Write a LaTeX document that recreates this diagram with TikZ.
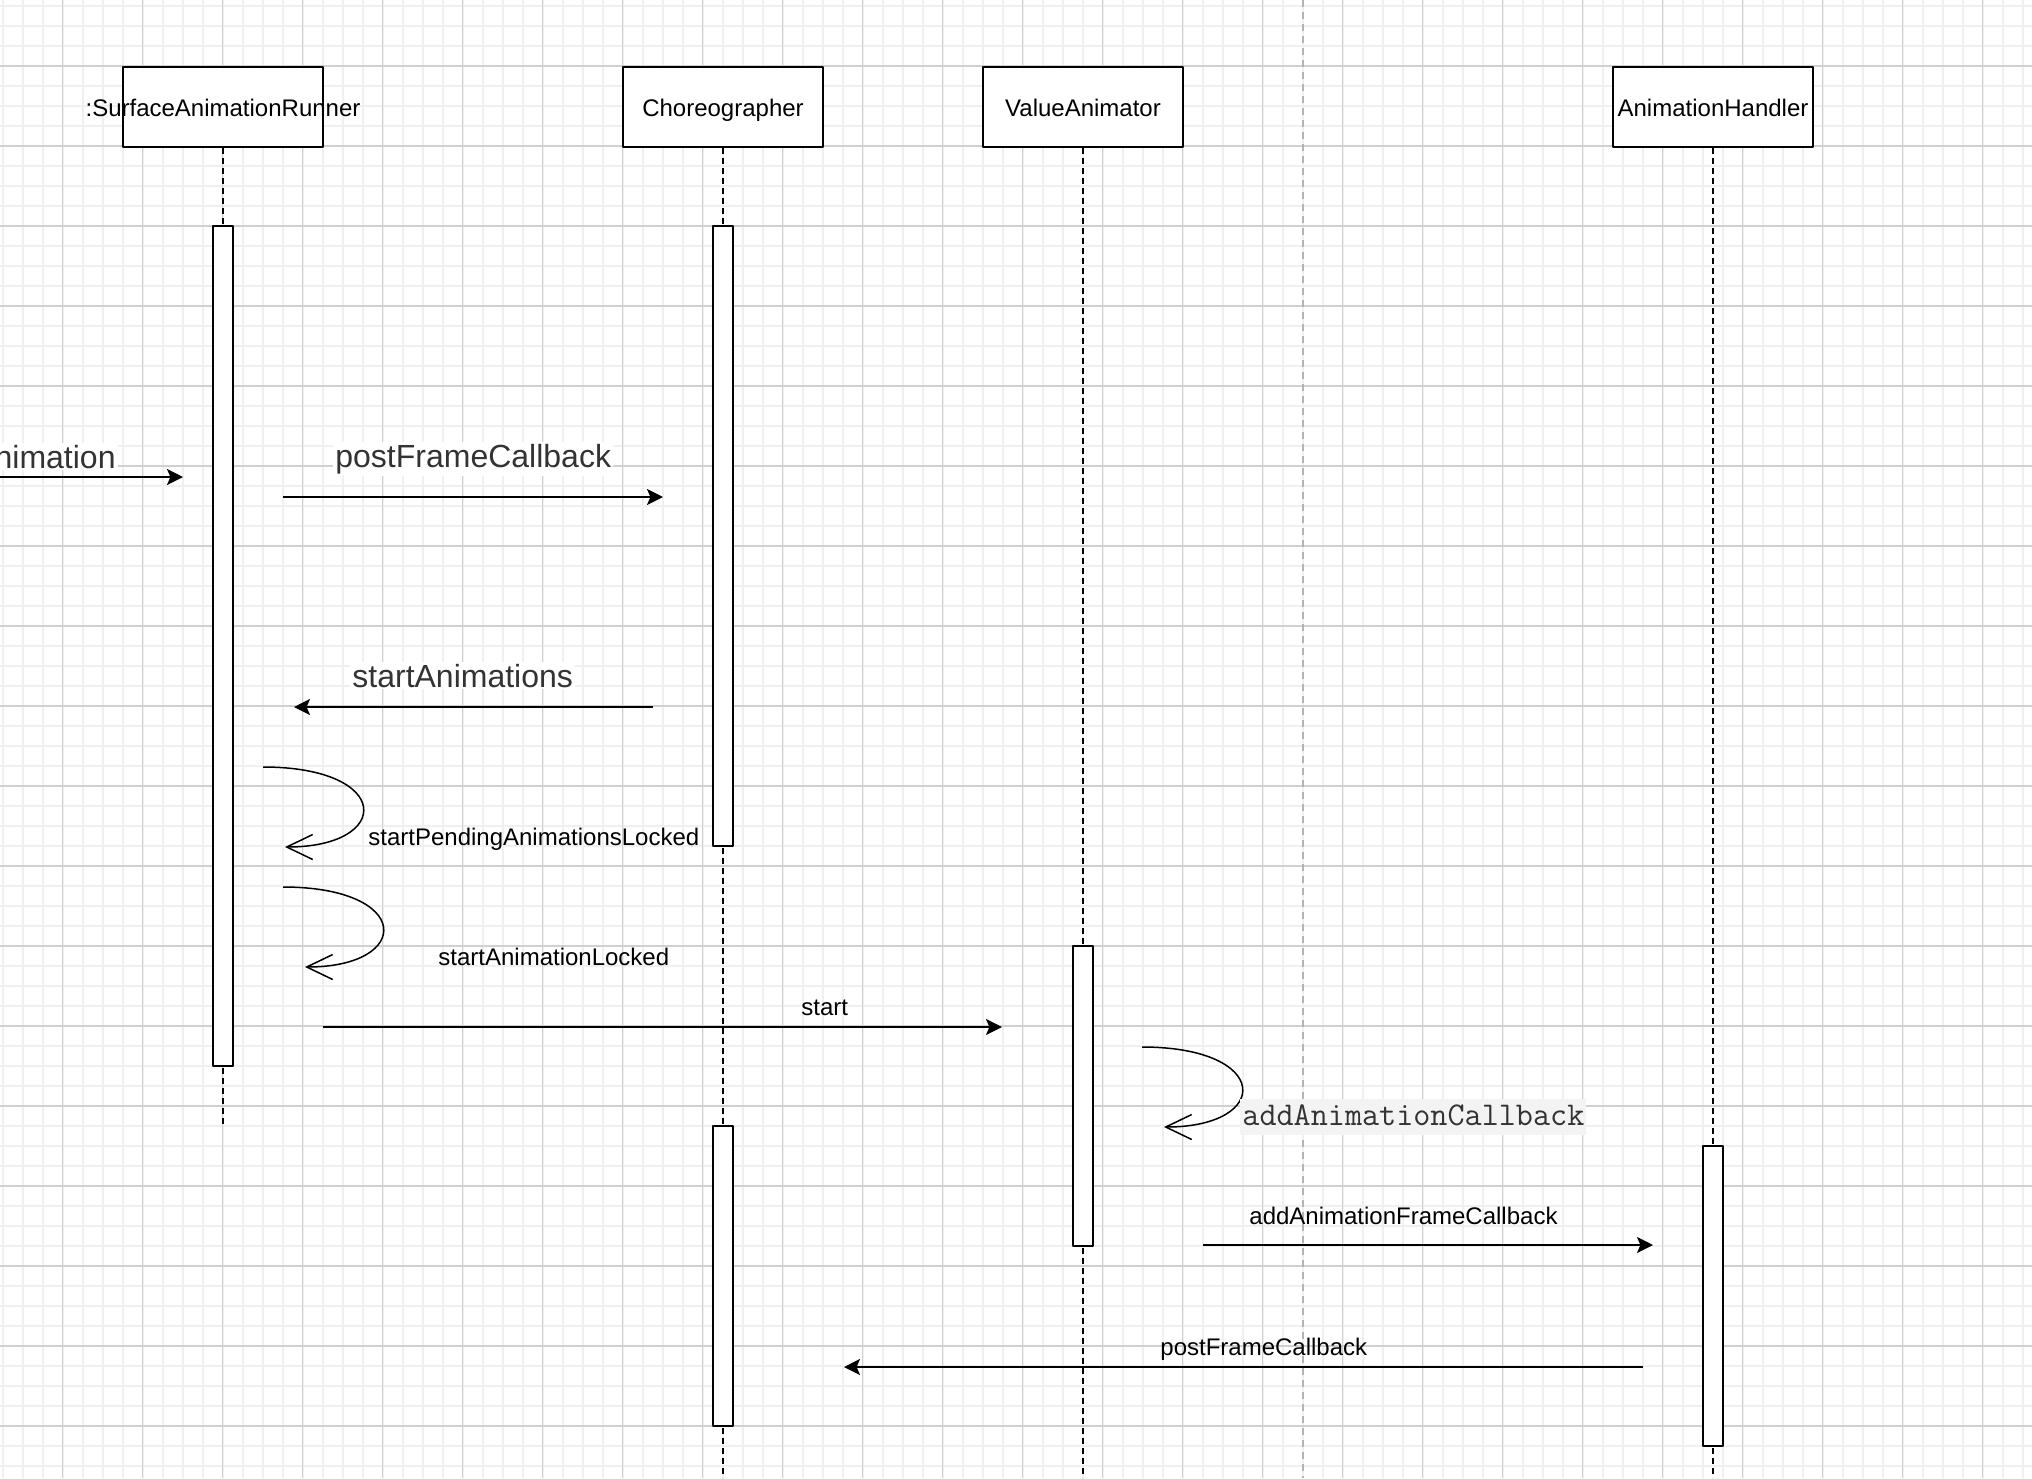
\documentclass[tikz,border=0pt]{standalone}
\usepackage{fontspec}
\setmainfont{Liberation Sans}
\usetikzlibrary{arrows.meta}
\definecolor{gridminor}{HTML}{F0F0F0}
\definecolor{gridmajor}{HTML}{D0D0D0}
\definecolor{pageline}{HTML}{B4B4B4}
\definecolor{labelgray}{HTML}{333333}
\definecolor{codebg}{HTML}{F2F3F2}
\begin{document}
\begin{tikzpicture}[x=0.5pt, y=-0.5pt, line join=round, font=\fontsize{12}{14}\selectfont,
		>={Stealth[length=8pt, width=8pt, inset=1.7pt]},
		minorline/.style={gridminor, line width=1pt},
		majorline/.style={gridmajor, line width=0.6pt},
		head/.style={draw, fill=white, line width=1pt, minimum width=100pt, minimum height=40pt, inner sep=0pt, text height=11.5pt, text depth=2.5pt},
		act/.style={draw, fill=white, line width=1pt, minimum width=10pt, inner sep=0pt},
		life/.style={line width=0.8pt, dash pattern=on 3pt off 2pt},
		msg/.style={->, line width=1pt},
		self/.style={line width=0.75pt, -{Straight Barb[length=13pt, width=12.5pt]}},
		biglbl/.style={fill=white, text=labelgray, font=\fontsize{16}{19}\selectfont, inner sep=1pt},
		lbl/.style={inner sep=0pt},
		codelbl/.style={fill=codebg, text=labelgray, font=\ttfamily\fontsize{16.6}{19}\selectfont, inner xsep=1pt, inner ysep=1.5pt, text height=11.5pt, text depth=3.5pt}]
	\useasboundingbox (0,0) rectangle (2032,1478);
	\clip (0,0) rectangle (2032,1478);
	\foreach \gx in {2.5,22.5,...,2032}
	\draw[minorline] (\gx,0) -- (\gx,1478);
	\foreach \gy in {6,26,...,1478}
	\draw[minorline] (0,\gy) -- (2032,\gy);
	\foreach \gx in {62.5,142.5,...,2032}
	\draw[majorline] (\gx,0) -- (\gx,1478);
	\foreach \gy in {66,146,...,1478}
	\draw[majorline] (0,\gy) -- (2032,\gy);
	\draw[pageline, line width=1pt, dash pattern=on 3.5pt off 2.5pt] (1302.5,0) -- (1302.5,1478);
	
	\node[head] (sar) at (223,107) {\makebox[0pt]{:SurfaceAnimationRunner}};
	\node[head] (chor) at (723,107) {Choreographer};
	\node[head] (va) at (1083,107) {ValueAnimator};
	\node[head] (ah) at (1713,107) {AnimationHandler};
	
	\path (223,1126) coordinate (sar-end)
	(723,1478) coordinate (chor-end)
	(1083,1478) coordinate (va-end)
	(1713,1478) coordinate (ah-end);
	\foreach \h in {sar,chor,va,ah}
	\draw[life] (\h.south) -- (\h-end);
	\foreach \bn/\x/\cy/\len in {sarAct/223/646/420,chorActA/723/536/310,chorActB/723/1276/150,vaAct/1083/1096/150,ahAct/1713/1296/150}
	\node[act, minimum height=\len pt] (\bn) at (\x,\cy) {};
	
	\path (-4,477) coordinate (anim-start) (183,477) coordinate (anim-end)
	(283,497) coordinate (post-start) (663,497) coordinate (post-end)
	(653,707) coordinate (sa-start) (294,707) coordinate (sa-end)
	(323,1027) coordinate (go-start) (1002,1027) coordinate (go-end)
	(1203,1245) coordinate (frame-start) (1653,1245) coordinate (frame-end)
	(1643,1367) coordinate (cb-start) (844,1367) coordinate (cb-end);
	\foreach \m in {anim,post,sa,go,frame,cb}
	\draw[msg] (\m-start) -- (\m-end);
	
	\path (263,767) coordinate (pend-start) (285,847) coordinate (pend-end)
	(283,887) coordinate (lock-start) (305,967) coordinate (lock-end)
	(1142,1047) coordinate (add-start) (1164,1127) coordinate (add-end);
	\foreach \lp in {pend,lock,add}
	\draw[self] (\lp-start) .. controls +(130,0) and +(108,0) .. (\lp-end);
	
	\node[biglbl, anchor=base east] (anim-lbl) at (118,468) {nimation};
	\node[biglbl, anchor=base west] (post-lbl) at (333,467) {postFrameCallback};
	\node[biglbl, anchor=base west] (sa-lbl) at (350,687) {startAnimations};
	\node[lbl, anchor=base west] (pend-lbl) at (368,845) {startPendingAnimationsLocked};
	\node[lbl, anchor=base west] (lock-lbl) at (438,965) {startAnimationLocked};
	\node[lbl, anchor=base west] (go-lbl) at (801,1015) {start};
	\node[codelbl, anchor=base west] (add-lbl) at (1240,1125) {addAnimationCallback};
	\node[lbl, anchor=base west] (frame-lbl) at (1249,1224) {addAnimationFrameCallback};
	\node[lbl, anchor=base west] (cb-lbl) at (1160,1355) {postFrameCallback};
\end{tikzpicture}
\end{document}
